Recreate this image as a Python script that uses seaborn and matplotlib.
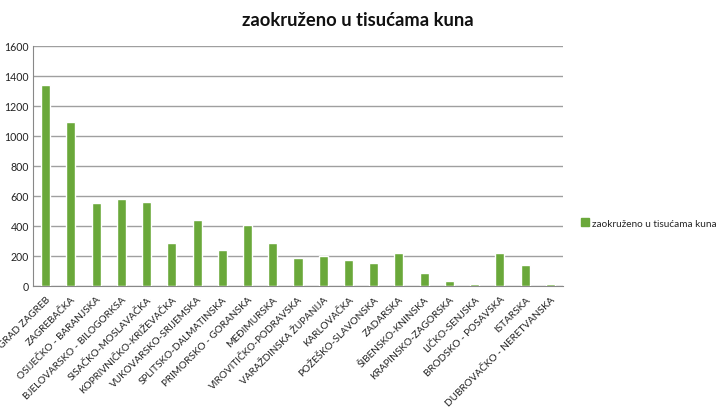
import matplotlib
matplotlib.use("Agg")
import matplotlib.pyplot as plt
import seaborn as sns
import pandas as pd
from matplotlib.patches import Patch

categories = [
    "GRAD ZAGREB", "ZAGREBAČKA", "OSIJEČKO - BARANJSKA", "BJELOVARSKO - BILOGORKSA",
    "SISAČKO-MOSLAVAČKA", "KOPRIVNIČKO-KRIŽEVAČKA", "VUKOVARSKO-SRIJEMSKA",
    "SPLITSKO-DALMATINSKA", "PRIMORSKO - GORANSKA", "MEĐIMURSKA",
    "VIROVITIČKO-PODRAVSKA", "VARAŽDINSKA ŽUPANIJA", "KARLOVAČKA",
    "POŽEŠKO-SLAVONSKA", "ZADARSKA", "ŠIBENSKO-KNINSKA", "KRAPINSKO-ZAGORSKA",
    "LIČKO-SENJSKA", "BRODSKO - POSAVSKA", "ISTARSKA", "DUBROVAČKO - NERETVANSKA",
]
values = [1335, 1095, 550, 582, 560, 285, 442, 240, 409, 289,
          187, 198, 173, 153, 218, 87, 31, 12, 222, 138, 12]
series_name = "zaokruženo u tisućama kuna"
y_ticks = [0, 200, 400, 600, 800, 1000, 1200, 1400, 1600]

df = pd.DataFrame({"zupanija": categories, "iznos": values})

sns.set_style("white")
plt.rcParams["font.family"] = ["Lato", "DejaVu Sans"]

green = "#6aa83a"
fig = plt.figure(figsize=(7.19, 4.10), dpi=100)
ax = fig.add_axes([33 / 719, 1 - 287 / 410, (563 - 33) / 719, (287 - 46.7) / 410])

sns.barplot(data=df, x="zupanija", y="iznos", color=green, width=0.36,
            saturation=1, ax=ax)
for p in ax.patches:
    p.set_zorder(4)

ax.set_ylim(0, 1600)
ax.set_xlim(-0.5, len(categories) - 0.5)
ax.set_yticks(y_ticks)
ax.set_yticklabels([str(v) for v in y_ticks], fontsize=7.6, color="#222222")
ax.grid(axis="y", color="#9f9f9f", linewidth=1, zorder=0)
ax.set_axisbelow(True)
ax.set_xlabel("")
ax.set_ylabel("")

ax.set_xticks(range(len(categories)))
ax.set_xticklabels(categories, rotation=45, ha="right", rotation_mode="anchor",
                   fontsize=7.2, color="#222222")
ax.set_xticks([i + 0.5 for i in range(-1, len(categories))], minor=True)
ax.tick_params(axis="x", which="major", length=0, pad=6)
ax.tick_params(axis="x", which="minor", length=4, color="#888888", width=0.8)
ax.tick_params(axis="y", length=0, pad=3)

for s in ["top", "right"]:
    ax.spines[s].set_visible(False)
for s in ["left", "bottom"]:
    ax.spines[s].set_color("#888888")
    ax.spines[s].set_linewidth(0.8)
    ax.spines[s].set_zorder(3)

fig.text(358 / 719, 1 - 21 / 410, series_name, ha="center", va="center",
         fontsize=13.2, fontweight="bold", color="#111111")

fig.legend(handles=[Patch(facecolor=green, edgecolor=green, label=series_name)],
           loc="center left", bbox_to_anchor=(577 / 719, 1 - 224 / 410),
           frameon=False, fontsize=7.2, handlelength=0.75, handleheight=0.75,
           handletextpad=0.3, borderaxespad=0)

fig.savefig("out.png", dpi=100, facecolor="white")
